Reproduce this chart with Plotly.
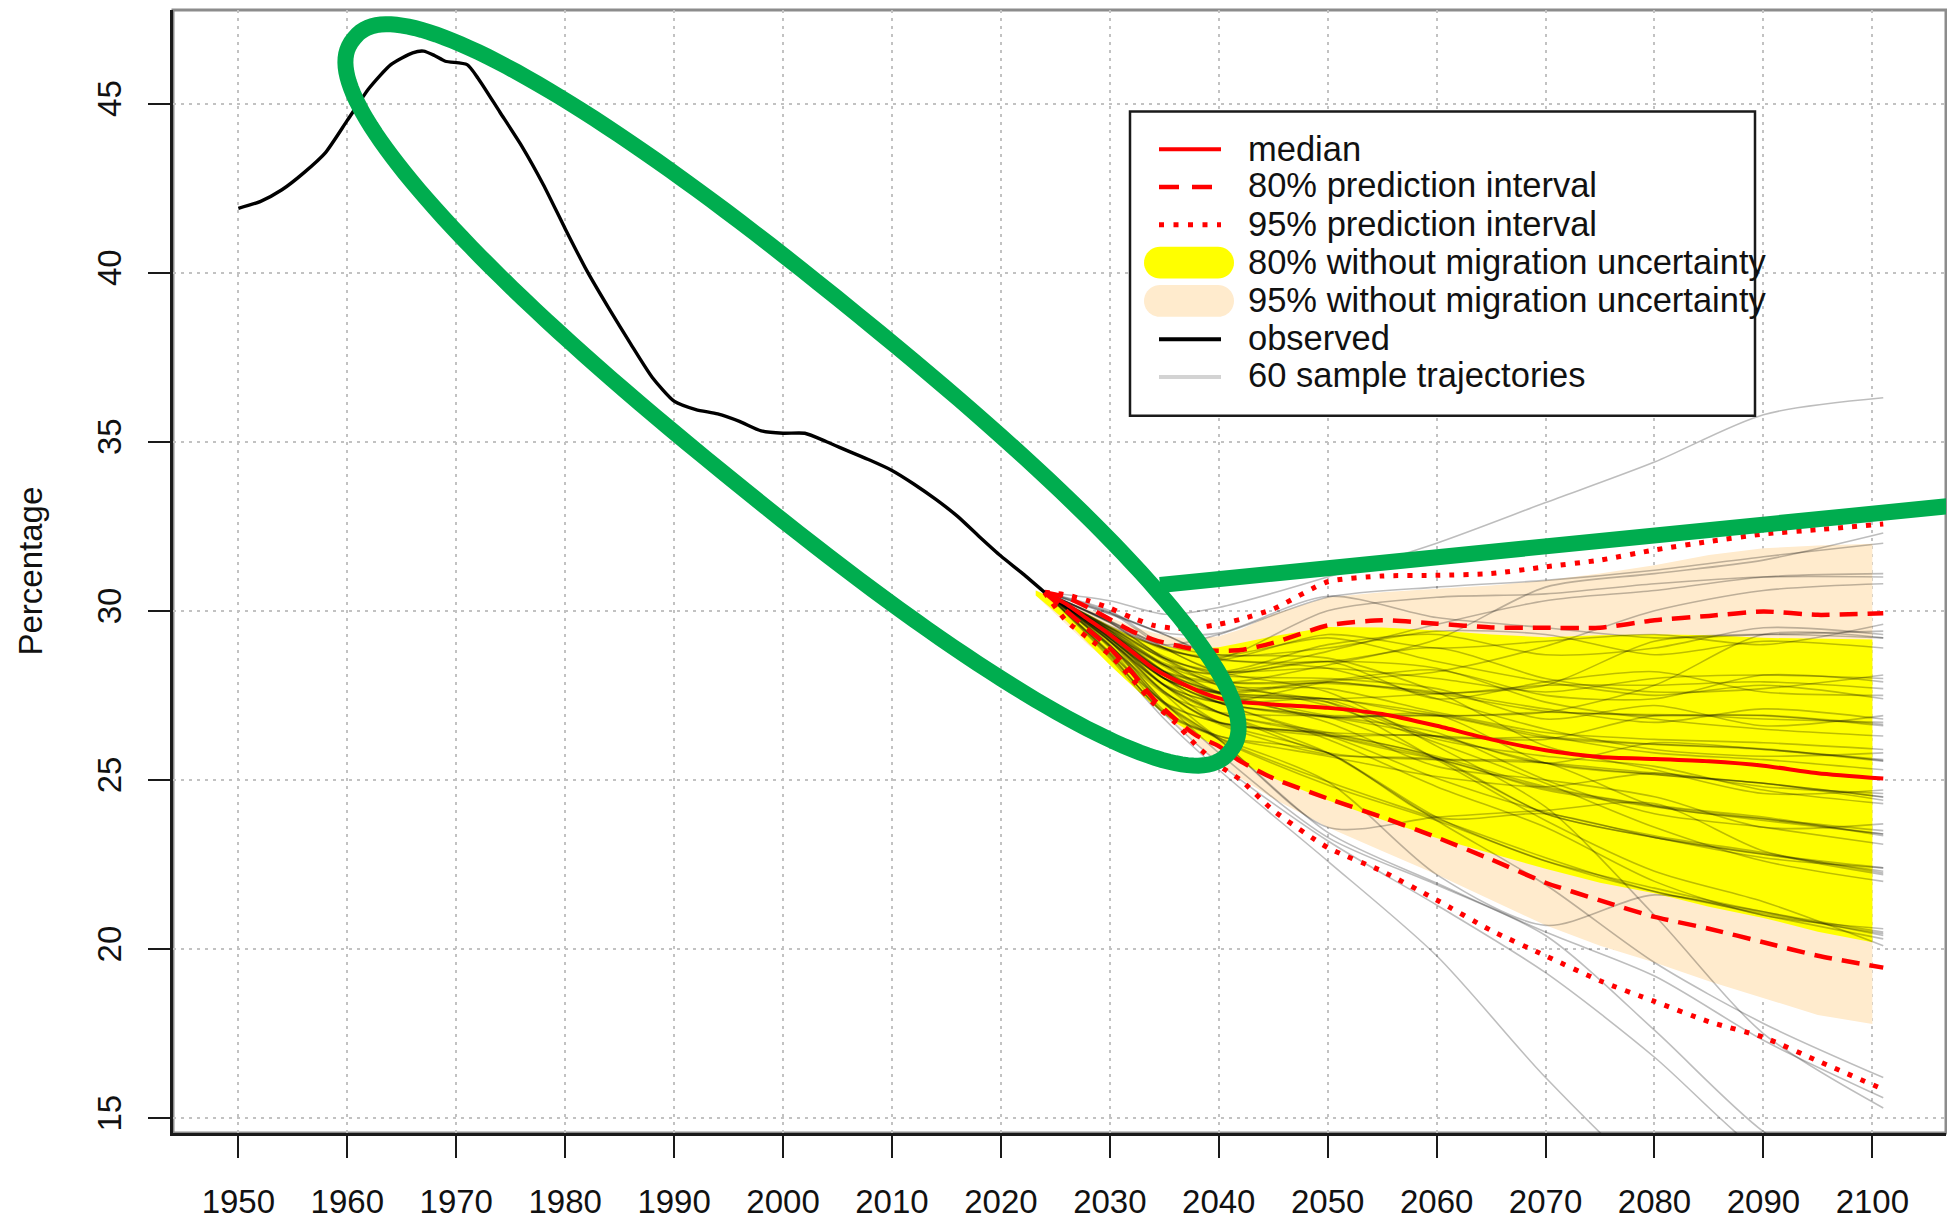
import math
import plotly.graph_objects as go

# ---------------- data ----------------
obs_years = [1950, 1952, 1954, 1956, 1958, 1960, 1962, 1964, 1966, 1967, 1968, 1969, 1971, 1972,
             1974, 1976, 1978, 1980, 1982, 1984, 1986, 1988, 1990, 1992, 1994, 1996, 1998, 2000,
             2002, 2004, 2006, 2008, 2010, 2012, 2014, 2016, 2018, 2020, 2022, 2024]
obs_values = [41.9, 42.1, 42.45, 42.95, 43.55, 44.5, 45.45, 46.15, 46.5, 46.55, 46.42, 46.25, 46.15, 45.75,
              44.75, 43.75, 42.6, 41.3, 40.05, 38.95, 37.9, 36.9, 36.2, 35.95, 35.82, 35.6, 35.32, 35.25,
              35.25, 35.0, 34.72, 34.45, 34.15, 33.75, 33.3, 32.8, 32.2, 31.62, 31.1, 30.55]

proj_years = [2024, 2026, 2028, 2030, 2032, 2034, 2036, 2038, 2040, 2042, 2045, 2050, 2055, 2060,
              2065, 2070, 2075, 2080, 2085, 2090, 2095, 2101]
median = [30.55, 30.2, 29.75, 29.3, 28.8, 28.3, 27.95, 27.65, 27.42, 27.3, 27.23, 27.13, 26.95, 26.6,
          26.2, 25.88, 25.68, 25.62, 25.55, 25.42, 25.2, 25.04]
pi80_high = [30.55, 30.4, 30.1, 29.75, 29.4, 29.15, 28.98, 28.85, 28.82, 28.84, 29.05, 29.57, 29.72, 29.62,
             29.51, 29.5, 29.5, 29.72, 29.85, 29.98, 29.88, 29.93]
pi80_low = [30.55, 30.0, 29.45, 28.9, 28.2, 27.4, 26.8, 26.3, 26.0, 25.55, 25.05, 24.45, 23.9, 23.3,
            22.65, 21.96, 21.44, 20.95, 20.6, 20.2, 19.8, 19.45]
pi95_high = [30.55, 30.47, 30.3, 30.08, 29.8, 29.57, 29.48, 29.5, 29.6, 29.75, 30.05, 30.86, 31.03, 31.05,
             31.1, 31.3, 31.5, 31.8, 32.05, 32.27, 32.4, 32.57]
pi95_low = [30.55, 29.7, 29.2, 28.7, 28.0, 27.27, 26.7, 26.0, 25.43, 25.0, 24.1, 23.0, 22.3, 21.45,
            20.55, 19.8, 19.06, 18.45, 17.85, 17.39, 16.69, 15.85]

band_years = [2023.2, 2026, 2028, 2030, 2032, 2034, 2036, 2038, 2040, 2042, 2045, 2050, 2055, 2060,
              2065, 2070, 2075, 2080, 2085, 2090, 2095, 2100]
nomig80_high = [30.6, 30.2, 29.9, 29.55, 29.25, 29.02, 28.9, 28.88, 28.92, 29.05, 29.25, 29.52, 29.51, 29.42,
                29.3, 29.22, 29.28, 29.31, 29.28, 29.2, 29.18, 29.15]
nomig80_low = [30.45, 29.7, 29.05, 28.4, 27.8, 27.2, 26.7, 26.3, 25.95, 25.5, 25.05, 24.4, 23.82, 23.28,
               22.82, 22.37, 21.96, 21.65, 21.25, 20.92, 20.51, 20.2]
nomig95_high = [30.6, 30.3, 30.05, 29.8, 29.55, 29.35, 29.22, 29.18, 29.25, 29.45, 29.9, 30.4, 30.55, 30.65,
                30.75, 30.9, 31.1, 31.35, 31.65, 31.85, 31.93, 31.98]
nomig95_low = [30.45, 29.6, 29.0, 28.45, 27.9, 27.3, 26.65, 26.05, 25.5, 25.05, 24.45, 23.6, 22.9, 22.2,
               21.45, 20.7, 20.1, 19.6, 19.05, 18.55, 18.05, 17.78]

traj_years = [2024, 2030, 2035, 2040, 2050, 2060, 2070, 2080, 2090, 2101]
trajectories = [
    [30.55, 28.6, 26.8, 25.3, 22.6, 19.8, 16.2, 13.1, 11.0, 9.0],
    [30.55, 28.65, 26.95, 25.5, 23.2, 21.3, 19.3, 16.8, 13.9, 12.0],
    [30.55, 28.75, 27.25, 26.2, 23.6, 23.9, 24.1, 24.3, 22.9, 22.2],
    [30.55, 28.7, 27.0, 26.3, 25.7, 25.1, 24.8, 25.2, 24.8, 24.6],
    [30.55, 28.72, 26.95, 26.25, 24.95, 22.2, 20.7, 21.6, 21.0, 20.3],
    [30.55, 28.78, 27.3, 26.7, 26.4, 26.3, 26.2, 26.9, 26.8, 26.7],
    [30.55, 28.95, 27.25, 26.2, 24.85, 23.8, 22.6, 21.8, 21.1, 20.5],
    [30.55, 28.98, 27.3, 25.8, 23.3, 21.9, 20.4, 17.6, 14.6, 12.5],
    [30.55, 28.95, 27.6, 26.65, 25.75, 25.6, 24.7, 24.2, 23.8, 23.4],
    [30.55, 29.0, 27.28, 26.7, 26.3, 26.3, 25.5, 26.1, 25.9, 25.6],
    [30.55, 28.97, 27.55, 27.0, 26.9, 26.9, 27.0, 27.8, 29.3, 29.2],
    [30.55, 28.9, 27.05, 26.3, 25.8, 23.9, 24.0, 23.3, 22.7, 22.4],
    [30.55, 29.08, 27.62, 26.72, 26.3, 25.05, 24.05, 23.35, 22.85, 22.25],
    [30.55, 29.12, 27.55, 26.25, 24.95, 23.85, 22.7, 21.7, 21.05, 20.45],
    [30.55, 29.1, 27.3, 26.2, 23.45, 21.95, 20.5, 19.2, 17.3, 15.6],
    [30.55, 29.1, 27.8, 27.3, 27.4, 26.9, 27.0, 26.9, 26.9, 26.6],
    [30.55, 29.1, 27.8, 27.0, 25.8, 25.6, 25.5, 25.2, 24.9, 24.5],
    [30.55, 29.12, 27.82, 27.3, 27.9, 28.2, 28.95, 30.0, 30.6, 30.8],
    [30.55, 29.2, 27.78, 26.98, 26.4, 25.7, 24.8, 24.25, 23.9, 23.35],
    [30.55, 29.18, 28.0, 27.3, 26.85, 26.9, 26.25, 26.05, 25.9, 25.55],
    [30.55, 29.2, 27.8, 26.7, 25.8, 23.9, 22.6, 21.7, 21.1, 20.4],
    [30.55, 29.2, 28.0, 27.6, 27.9, 27.55, 27.8, 27.8, 27.9, 27.7],
    [30.55, 29.18, 27.6, 26.7, 26.35, 25.65, 24.0, 23.3, 22.8, 22.3],
    [30.55, 29.18, 28.0, 27.55, 27.4, 27.55, 27.8, 29.1, 29.3, 29.2],
    [30.55, 29.26, 28.0, 27.28, 26.86, 26.28, 25.5, 25.16, 24.9, 24.49],
    [30.55, 29.26, 28.0, 27.0, 26.33, 25.64, 24.75, 24.23, 23.85, 23.4],
    [30.55, 29.26, 28.2, 27.57, 27.89, 27.56, 27.03, 26.93, 26.91, 26.64],
    [30.55, 29.26, 27.8, 27.0, 25.8, 23.8, 21.9, 19.6, 17.8, 16.2],
    [30.55, 29.26, 28.2, 27.86, 28.4, 29.15, 30.7, 31.1, 31.5, 32.3],
    [30.55, 29.26, 28.0, 27.57, 27.38, 26.28, 26.26, 26.06, 25.92, 25.57],
    [30.55, 29.34, 28.2, 27.6, 27.4, 26.95, 26.3, 25.8, 25.6, 25.3],
    [30.55, 29.36, 28.22, 27.9, 27.95, 28.25, 27.5, 27.4, 28.1, 27.9],
    [30.55, 29.34, 28.2, 27.28, 26.86, 25.64, 24.0, 23.3, 22.8, 22.4],
    [30.55, 29.34, 28.4, 28.15, 28.8, 29.6, 30.3, 30.6, 31.0, 31.1],
    [30.55, 29.34, 28.0, 27.28, 26.33, 25.64, 25.5, 24.23, 23.85, 23.5],
    [30.55, 29.34, 28.4, 27.57, 26.86, 26.92, 25.5, 25.16, 24.9, 24.4],
    [30.55, 29.42, 28.4, 27.9, 27.85, 27.6, 27.1, 26.7, 27.1, 26.8],
    [30.55, 29.44, 28.6, 28.2, 29.0, 29.3, 28.7, 28.9, 29.5, 29.3],
    [30.55, 29.4, 28.35, 27.55, 27.3, 26.2, 25.7, 25.4, 24.7, 24.3],
    [30.55, 29.42, 28.2, 27.3, 26.2, 24.8, 23.6, 22.0, 21.0, 20.6],
    [30.55, 29.45, 28.45, 28.1, 28.5, 27.4, 27.9, 28.2, 27.6, 27.5],
    [30.55, 29.4, 28.15, 27.6, 26.9, 26.4, 25.0, 24.0, 23.6, 23.1],
    [30.55, 29.5, 28.6, 28.2, 28.3, 28.0, 27.6, 28.0, 28.1, 28.0],
    [30.55, 29.5, 28.9, 28.6, 30.0, 30.4, 30.5, 30.8, 31.0, 31.0],
    [30.55, 29.52, 28.55, 27.8, 27.7, 27.0, 26.4, 26.2, 26.1, 25.9],
    [30.55, 29.48, 28.4, 27.6, 26.7, 25.4, 25.0, 24.5, 23.6, 23.7],
    [30.55, 29.5, 28.65, 28.1, 28.0, 27.7, 26.8, 27.2, 26.6, 26.9],
    [30.55, 29.55, 28.9, 28.55, 29.3, 28.9, 29.1, 29.3, 29.0, 29.6],
    [30.55, 29.65, 28.85, 28.65, 28.9, 29.4, 29.3, 28.7, 29.1, 28.9],
    [30.55, 29.7, 28.9, 28.2, 28.5, 28.3, 27.3, 26.8, 26.5, 26.3],
    [30.55, 29.7, 29.0, 29.3, 30.4, 30.7, 30.9, 31.2, 31.6, 32.0],
    [30.55, 29.65, 28.6, 27.9, 27.2, 26.1, 24.9, 23.6, 22.6, 22.0],
    [30.55, 29.68, 28.88, 28.55, 28.5, 28.9, 28.0, 27.6, 27.7, 28.1],
    [30.55, 29.66, 28.6, 27.8, 27.3, 25.6, 23.8, 22.3, 21.4, 20.1],
    [30.55, 30.3, 29.9, 30.1, 31.0, 32.0, 33.2, 34.4, 35.8, 36.3],
    [30.55, 29.95, 29.35, 29.34, 30.43, 29.8, 29.5, 29.2, 29.3, 29.4],
    [30.55, 29.9, 29.3, 28.7, 29.2, 28.5, 27.9, 27.5, 27.8, 27.4],
    [30.55, 29.92, 29.3, 28.6, 28.3, 27.4, 26.5, 25.9, 25.7, 25.8],
    [30.55, 30.0, 29.0, 28.7, 28.6, 27.6, 26.0, 25.3, 24.6, 24.7],
    [30.55, 29.95, 28.9, 28.2, 27.6, 26.0, 24.2, 21.0, 17.5, 15.3],
]

x_ticks = list(range(1950, 2101, 10))
y_ticks = [15, 20, 25, 30, 35, 40, 45]
legend_labels = ["median", "80% prediction interval", "95% prediction interval",
                 "80% without migration uncertainty", "95% without migration uncertainty",
                 "observed", "60 sample trajectories"]

# ---------------- geometry helpers ----------------
W, H = 1947, 1221
ML, MR, MT, MB = 173, 1, 10, 82
PW, PH = W - ML - MR, H - MT - MB
XR = [1944.0, 2106.76]
YR = [14.56, 47.765]


def xp(px):
    return (px - ML) / PW


def yp(py):
    return (H - MB - py) / PH


def dx(px):
    return XR[0] + (px - ML) / PW * (XR[1] - XR[0])


def dy(py):
    return YR[1] - (py - MT) / PH * (YR[1] - YR[0])


RED = "#ff0000"
YELLOW = "#ffff00"
BEIGE = "#ffebcd"
GREEN = "#00ad4f"
FONT = "Liberation Sans, Arial, Helvetica, sans-serif"

fig = go.Figure()

# bands
fig.add_trace(go.Scatter(x=band_years + band_years[::-1], y=nomig95_high + nomig95_low[::-1],
                         fill="toself", fillcolor=BEIGE, line=dict(width=0), mode="lines",
                         hoverinfo="skip", showlegend=False))
fig.add_trace(go.Scatter(x=band_years + band_years[::-1], y=nomig80_high + nomig80_low[::-1],
                         fill="toself", fillcolor=YELLOW, line=dict(width=0), mode="lines",
                         hoverinfo="skip", showlegend=False))

# trajectories
for tr in trajectories:
    fig.add_trace(go.Scatter(x=traj_years, y=tr, mode="lines",
                             line=dict(color="rgba(0,0,0,0.26)", width=1.6, shape="spline", smoothing=0.8),
                             hoverinfo="skip", showlegend=False))

# prediction intervals and median
for series, dash, width in [(pi95_low, "5px,9px", 5), (pi95_high, "5px,9px", 5),
                            (pi80_low, "18px,10px", 4.5), (pi80_high, "18px,10px", 4.5),
                            (median, "solid", 4)]:
    fig.add_trace(go.Scatter(x=proj_years, y=series, mode="lines",
                             line=dict(color=RED, width=width, dash=dash, shape="spline", smoothing=0.6),
                             hoverinfo="skip", showlegend=False))

# observed
fig.add_trace(go.Scatter(x=obs_years, y=obs_values, mode="lines",
                         line=dict(color="#000000", width=3.4, shape="spline", smoothing=0.6),
                         hoverinfo="skip", showlegend=False))

shapes = []
# gray frame (top/right)
shapes.append(dict(type="rect", xref="paper", yref="paper", x0=0, x1=1, y0=0, y1=1,
                   line=dict(color="#8c8c8c", width=3), layer="below"))

# ---- legend drawn by hand ----
shapes.append(dict(type="rect", xref="paper", yref="paper", x0=xp(1130), x1=xp(1755),
                   y0=yp(418), y1=yp(112), line=dict(color="#1a1a1a", width=2.5),
                   fillcolor="white", layer="above"))
sx0, sx1 = 1159, 1221


def legend_line(py, color, width, dash):
    shapes.append(dict(type="line", xref="paper", yref="paper", x0=xp(sx0), x1=xp(sx1),
                       y0=yp(py), y1=yp(py), line=dict(color=color, width=width, dash=dash),
                       layer="above"))


def stadium(x0, x1, yc, h, color):
    r = h / 2.0
    pts = []
    for i in range(21):
        a = math.pi / 2 + math.pi * i / 20
        pts.append((x0 + r + r * math.cos(a), yc - r * math.sin(a)))
    for i in range(21):
        a = -math.pi / 2 + math.pi * i / 20
        pts.append((x1 - r + r * math.cos(a), yc - r * math.sin(a)))
    path = "M " + " L ".join(f"{xp(a):.5f},{yp(b):.5f}" for a, b in pts) + " Z"
    shapes.append(dict(type="path", xref="paper", yref="paper", path=path,
                       fillcolor=color, line=dict(width=0), layer="above"))


legend_line(150, RED, 4, "solid")
legend_line(188, RED, 4.5, "20px,13px")
legend_line(226, RED, 5, "5px,9.5px")
stadium(1144, 1234, 264, 32, YELLOW)
stadium(1144, 1234, 302.5, 32, BEIGE)
legend_line(341, "#000000", 4, "solid")
legend_line(379, "#d3d3d3", 4, "solid")


# ---- green annotation: ellipse + line ----
def ellipse_path(cx, cy, a, b, ang_deg, n=2.3, N=200):
    th = math.radians(ang_deg)
    pts = []
    for i in range(N):
        t = 2 * math.pi * i / N
        c, s = math.cos(t), math.sin(t)
        u = a * math.copysign(abs(c) ** (2 / n), c)
        v = b * math.copysign(abs(s) ** (2 / n), s)
        px = cx + u * math.cos(th) - v * math.sin(th)
        py = cy + u * math.sin(th) + v * math.cos(th)
        pts.append((dx(px), dy(py)))
    return "M " + " L ".join(f"{x:.4f},{y:.4f}" for x, y in pts) + " Z"


shapes.append(dict(type="path", xref="x", yref="y", path=ellipse_path(792, 397, 566, 104, 39.3),
                   line=dict(color=GREEN, width=16), layer="above"))
shapes.append(dict(type="line", xref="x", yref="y", x0=dx(1160), y0=dy(588), x1=dx(1960), y1=dy(507.6),
                   line=dict(color=GREEN, width=16), layer="above"))

annotations = []
rows_y = [150, 186, 225, 263, 302, 340, 377]
for lab, py in zip(legend_labels, rows_y):
    annotations.append(dict(xref="paper", yref="paper", x=xp(1246), y=yp(py), text=lab,
                            showarrow=False, xanchor="left", yanchor="middle",
                            font=dict(family=FONT, size=34.5, color="#111111")))
annotations.append(dict(xref="paper", yref="paper", x=xp(30), y=yp(574.5), text="Percentage",
                        textangle=-90, showarrow=False, xanchor="center", yanchor="middle",
                        font=dict(family=FONT, size=33, color="#111111")))

axis_common = dict(showgrid=True, gridcolor="#c2c2c2", griddash="3px,5px", gridwidth=1.8,
                   showline=True, linecolor="#1a1a1a", linewidth=2.5, ticks="outside",
                   ticklen=22, tickwidth=2.2, tickcolor="#1a1a1a", zeroline=False,
                   tickfont=dict(family=FONT, size=33, color="#111111"))

fig.update_layout(
    width=W, height=H, margin=dict(l=ML, r=MR, t=MT, b=MB, pad=0),
    plot_bgcolor="white", paper_bgcolor="white", showlegend=False,
    xaxis=dict(range=XR, tickvals=x_ticks, ticktext=[str(v) for v in x_ticks],
               ticklabelstandoff=16, **axis_common),
    yaxis=dict(range=YR, tickvals=y_ticks, ticktext=[str(v) for v in y_ticks], tickangle=-90,
               ticklabelstandoff=14, **axis_common),
    shapes=shapes, annotations=annotations,
)

fig.write_html("out.html")
